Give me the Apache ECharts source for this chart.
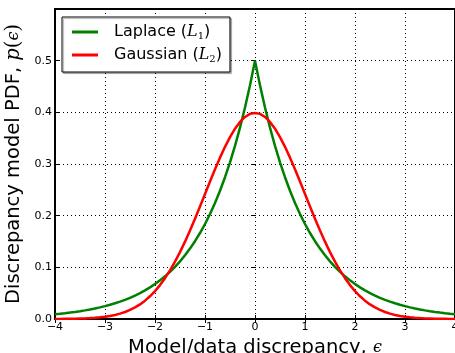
<!DOCTYPE html>
<html>
<head>
<meta charset="utf-8">
<script src="https://cdn.jsdelivr.net/npm/echarts@6/dist/echarts.min.js"></script>
<style>
  html, body { margin: 0; padding: 0; background: #fff; }
  #chart { width: 455px; height: 353px; }
</style>
</head>
<body>
<div id="chart"></div>
<script>
// discrepancy values (x)
const eps = [
  -4.0, -3.9, -3.8, -3.7, -3.6, -3.5, -3.4, -3.3, -3.2, -3.1,
  -3.0, -2.9, -2.8, -2.7, -2.6, -2.5, -2.4, -2.3, -2.2, -2.1,
  -2.0, -1.9, -1.8, -1.7, -1.6, -1.5, -1.4, -1.3, -1.2, -1.1,
  -1.0, -0.9, -0.8, -0.7, -0.6, -0.5, -0.4, -0.3, -0.2, -0.1,
  0.0,
  0.1, 0.2, 0.3, 0.4, 0.5, 0.6, 0.7, 0.8, 0.9, 1.0,
  1.1, 1.2, 1.3, 1.4, 1.5, 1.6, 1.7, 1.8, 1.9, 2.0,
  2.1, 2.2, 2.3, 2.4, 2.5, 2.6, 2.7, 2.8, 2.9, 3.0,
  3.1, 3.2, 3.3, 3.4, 3.5, 3.6, 3.7, 3.8, 3.9, 4.0
]
// Laplace (L1)
const laplace = [
  0.0092, 0.0101, 0.0112, 0.0124, 0.0137, 0.0151, 0.0167, 0.0184, 0.0204, 0.0225,
  0.0249, 0.0275, 0.0304, 0.0336, 0.0371, 0.0410, 0.0454, 0.0501, 0.0554, 0.0612,
  0.0677, 0.0748, 0.0826, 0.0913, 0.1009, 0.1116, 0.1233, 0.1363, 0.1506, 0.1664,
  0.1839, 0.2033, 0.2247, 0.2483, 0.2744, 0.3033, 0.3352, 0.3704, 0.4094, 0.4524,
  0.5000,
  0.4524, 0.4094, 0.3704, 0.3352, 0.3033, 0.2744, 0.2483, 0.2247, 0.2033, 0.1839,
  0.1664, 0.1506, 0.1363, 0.1233, 0.1116, 0.1009, 0.0913, 0.0826, 0.0748, 0.0677,
  0.0612, 0.0554, 0.0501, 0.0454, 0.0410, 0.0371, 0.0336, 0.0304, 0.0275, 0.0249,
  0.0225, 0.0204, 0.0184, 0.0167, 0.0151, 0.0137, 0.0124, 0.0112, 0.0101, 0.0092
]
// Gaussian (L2)
const gaussian = [
  0.0001, 0.0002, 0.0003, 0.0004, 0.0006, 0.0009, 0.0012, 0.0017, 0.0024, 0.0033,
  0.0044, 0.0060, 0.0079, 0.0104, 0.0136, 0.0175, 0.0224, 0.0283, 0.0355, 0.0440,
  0.0540, 0.0656, 0.0790, 0.0940, 0.1109, 0.1295, 0.1497, 0.1714, 0.1942, 0.2179,
  0.2420, 0.2661, 0.2897, 0.3123, 0.3332, 0.3521, 0.3683, 0.3814, 0.3910, 0.3970,
  0.3989,
  0.3970, 0.3910, 0.3814, 0.3683, 0.3521, 0.3332, 0.3123, 0.2897, 0.2661, 0.2420,
  0.2179, 0.1942, 0.1714, 0.1497, 0.1295, 0.1109, 0.0940, 0.0790, 0.0656, 0.0540,
  0.0440, 0.0355, 0.0283, 0.0224, 0.0175, 0.0136, 0.0104, 0.0079, 0.0060, 0.0044,
  0.0033, 0.0024, 0.0017, 0.0012, 0.0009, 0.0006, 0.0004, 0.0003, 0.0002, 0.0001
]
const seriesNames = ['Laplace', 'Gaussian']
const subIdx = { Laplace: '1', Gaussian: '2' }

const font = 'DejaVu Sans'
const myChart = echarts.init(document.getElementById('chart'))

const pairs = (ys) => eps.map((x, i) => [x, ys[i]])

// twin axes only for the inward ticks on top / right
const tickOnly = { show: true, inside: true, length: 4, lineStyle: { color: '#000', width: 1 } }

myChart.setOption({
  animation: false,
  grid: {
    left: 55, right: 0, top: 9, bottom: 34,
    outerBoundsMode: 'none', containLabel: false,
    show: true, borderColor: '#000', borderWidth: 2
  },
  legend: {
    data: seriesNames.map(n => ({ name: n, icon: 'rect' })),
    orient: 'vertical',
    left: 62, top: 17,
    padding: [7, 8, 8, 10],
    itemGap: 6,
    itemWidth: 26, itemHeight: 3,
    backgroundColor: '#fff',
    borderColor: '#000', borderWidth: 1,
    shadowColor: 'rgba(0,0,0,0.3)', shadowOffsetX: 1.5, shadowOffsetY: 1.5, shadowBlur: 1,
    formatter: name => name + ' ({i|L}{s|' + subIdx[name] + '})',
    textStyle: {
      fontFamily: font, fontSize: 16, color: '#000', padding: [0, 0, 0, 11],
      rich: {
        i: { fontFamily: 'DejaVu Serif', fontStyle: 'italic', fontSize: 16, color: '#000' },
        s: { fontFamily: 'DejaVu Serif', fontSize: 10, color: '#000', padding: [8, 0, 0, 0] }
      }
    }
  },
  xAxis: [{
    type: 'value', min: -4, max: 4, interval: 1,
    name: 'Model/data discrepancy, {e|ϵ}',
    nameLocation: 'middle', nameGap: 12,
    nameTextStyle: {
      fontFamily: font, fontSize: 19.5, color: '#000',
      rich: { e: { fontFamily: 'DejaVu Serif', fontStyle: 'italic', fontSize: 16, color: '#000' } }
    },
    axisLine: { show: true, onZero: false, lineStyle: { color: '#000', width: 2 } },
    axisTick: tickOnly,
    axisLabel: {
      fontFamily: font, fontSize: 11, color: '#000', margin: 3,
      formatter: v => (v < 0 ? '\u2212' + (-v) : String(v))
    },
    splitLine: { show: true, lineStyle: { color: '#000', type: [1, 3], width: 1 } }
  }, {
    type: 'value', min: -4, max: 4, interval: 1, position: 'top',
    axisLine: { show: false }, axisTick: tickOnly, axisLabel: { show: false }, splitLine: { show: false }
  }],
  yAxis: [{
    type: 'value', min: 0, max: 0.6, interval: 0.1,
    name: 'Discrepancy model PDF, {p|p}{n|(}{e|ϵ}{n|)}',
    nameLocation: 'middle', nameGap: 27,
    nameTextStyle: {
      fontFamily: font, fontSize: 19.5, color: '#000',
      rich: {
        p: { fontFamily: 'DejaVu Serif', fontStyle: 'italic', fontSize: 19.5, color: '#000' },
        n: { fontFamily: 'DejaVu Serif', fontSize: 19.5, color: '#000' },
        e: { fontFamily: 'DejaVu Serif', fontStyle: 'italic', fontSize: 16, color: '#000' }
      }
    },
    axisLine: { show: true, onZero: false, lineStyle: { color: '#000', width: 2 } },
    axisTick: tickOnly,
    axisLabel: {
      fontFamily: font, fontSize: 11, color: '#000', margin: 3,
      formatter: v => (v >= 0.55 ? '' : v.toFixed(1))
    },
    splitLine: { show: true, lineStyle: { color: '#000', type: [1, 3], width: 1 } }
  }, {
    type: 'value', min: 0, max: 0.6, interval: 0.1, position: 'right',
    axisLine: { show: false }, axisTick: tickOnly, axisLabel: { show: false }, splitLine: { show: false }
  }],
  series: [
    {
      name: 'Laplace', type: 'line', symbol: 'none', smooth: false,
      data: pairs(laplace),
      lineStyle: { color: '#008000', width: 2.5 }, itemStyle: { color: '#008000' }
    },
    {
      name: 'Gaussian', type: 'line', symbol: 'none', smooth: false,
      data: pairs(gaussian),
      lineStyle: { color: '#ff0000', width: 2.5 }, itemStyle: { color: '#ff0000' }
    }
  ]
})
</script>
</body>
</html>
